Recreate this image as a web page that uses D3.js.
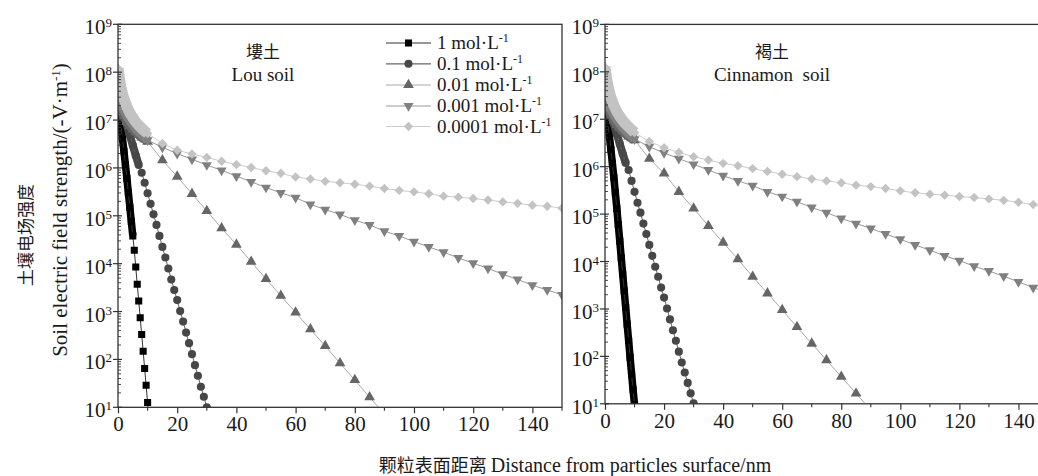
<!DOCTYPE html>
<html>
<head>
<meta charset="utf-8">
<script src="https://cdn.jsdelivr.net/npm/d3@7"></script>
<style>
  body { margin: 0; background: #fff; }
  text { font-family: "Liberation Serif", "Times New Roman", serif; fill: #1a1a1a; }
  .cn { font-family: "Noto Sans CJK SC", sans-serif; }
</style>
</head>
<body>
<svg id="chart" width="1038" height="476"></svg>
<script>

// Distance from particle surface (nm) for each series
const x1M = [0, 0.5, 1, 1.5, 2, 2.5, 3, 3.5, 4, 4.5, 5, 5.5, 6, 6.5, 7, 7.5, 8, 8.5, 9, 9.5, 10, 10.5];
const x01M = [0, 1, 2, 3, 4, 5, 6, 7, 8, 9, 10, 11, 12, 13, 14, 15, 16, 17, 18, 19, 20, 21, 22, 23, 24, 25, 26, 27, 28, 29, 30];
const x001M = [0, 1, 2, 3, 4, 5, 6, 7, 8, 9, 10, 15, 20, 25, 30, 35, 40, 45, 50, 55, 60, 65, 70, 75, 80, 85, 90];
const x0001M = [0, 1, 2, 3, 4, 5, 6, 7, 8, 9, 10, 15, 20, 25, 30, 35, 40, 45, 50, 55, 60, 65, 70, 75, 80, 85, 90,
    95, 100, 105, 110, 115, 120, 125, 130, 135, 140, 145, 150];
const x00001M = [0, 0.5, 1, 1.5, 2, 3, 4, 5, 6, 7, 8, 9, 10, 15, 20, 25, 30, 35, 40, 45, 50, 55, 60, 65, 70, 75, 80, 85, 90,
    95, 100, 105, 110, 115, 120, 125, 130, 135, 140, 145, 150];

// Field strength, given as log10(-V/m)
const lou1M = [7.45, 7.18, 6.9, 6.62, 6.35, 6.07, 5.78, 5.48, 5.18, 4.88, 4.58, 4.28, 3.93, 3.57, 3.22, 2.87, 2.52, 2.17, 1.81, 1.46, 1.10, 0.75];
const lou01M = [7.45, 7.3, 7.1, 6.9, 6.68, 6.47, 6.26, 6.06, 5.9, 5.69, 5.47, 5.25, 5.03, 4.81, 4.58, 4.35, 4.13, 3.90, 3.67, 3.45,
    3.24, 3.01, 2.79, 2.56, 2.34, 2.11, 1.88, 1.66, 1.43, 1.22, 1.0];
const lou001M = [7.45, 7.22, 7.07, 6.96, 6.88, 6.81, 6.75, 6.69, 6.64, 6.6, 6.55, 6.16, 5.82, 5.46, 5.10, 4.74, 4.40, 4.04, 3.68,
    3.33, 2.98, 2.63, 2.28, 1.92, 1.57, 1.21, 0.86];
const lou0001M = [7.6, 7.35, 7.2, 7.08, 6.98, 6.9, 6.82, 6.75, 6.69, 6.64, 6.58, 6.43, 6.30, 6.18, 6.06, 5.95, 5.83, 5.71, 5.59,
    5.48, 5.38, 5.24, 5.13, 5.03, 4.91, 4.81, 4.68, 4.58, 4.46, 4.35, 4.24, 4.12, 4.01, 3.90, 3.78, 3.67, 3.55, 3.45, 3.35];
const lou00001M = [8.08, 7.85, 7.68, 7.55, 7.45, 7.28, 7.15, 7.05, 6.96, 6.89, 6.83, 6.77, 6.72, 6.51, 6.37, 6.29, 6.22, 6.14,
    6.07, 6.01, 5.94, 5.89, 5.81, 5.77, 5.72, 5.69, 5.66, 5.62, 5.57, 5.53, 5.50, 5.46, 5.41, 5.39, 5.36, 5.33, 5.29, 5.26,
    5.22, 5.20, 5.16];

const cin1M = [7.47, 7.2, 6.92, 6.64, 6.36, 6.07, 5.77, 5.45, 5.12, 4.78, 4.43, 4.08, 3.73, 3.38, 3.03, 2.68, 2.33, 1.98, 1.63, 1.3, 0.98, 0.63];
const cin01M = [7.47, 7.3, 7.1, 6.9, 6.69, 6.48, 6.27, 6.08, 5.93, 5.70, 5.47, 5.24, 5.03, 4.80, 4.58, 4.35, 4.12, 3.89, 3.68, 3.45,
    3.24, 3.01, 2.78, 2.55, 2.33, 2.10, 1.87, 1.66, 1.44, 1.22, 1.01];
const cin001M = [7.47, 7.23, 7.08, 6.97, 6.88, 6.81, 6.75, 6.69, 6.64, 6.6, 6.56, 6.17, 5.86, 5.47, 5.12, 4.75, 4.40, 4.05, 3.68,
    3.33, 2.98, 2.62, 2.27, 1.92, 1.57, 1.22, 0.87];
const cin0001M = [7.6, 7.35, 7.2, 7.08, 6.98, 6.9, 6.82, 6.75, 6.69, 6.64, 6.58, 6.42, 6.29, 6.17, 6.05, 5.93, 5.81, 5.70, 5.60,
    5.47, 5.37, 5.26, 5.14, 5.03, 4.91, 4.80, 4.70, 4.58, 4.47, 4.35, 4.24, 4.12, 4.02, 3.90, 3.80, 3.69, 3.57, 3.45, 3.34];
const cin00001M = [8.1, 7.87, 7.7, 7.57, 7.46, 7.29, 7.16, 7.06, 6.97, 6.9, 6.84, 6.78, 6.72, 6.53, 6.40, 6.30, 6.21, 6.14,
    6.07, 6.02, 5.96, 5.90, 5.84, 5.79, 5.74, 5.70, 5.66, 5.61, 5.58, 5.54, 5.49, 5.45, 5.42, 5.40, 5.37, 5.35, 5.32, 5.29,
    5.25, 5.20, 5.17];

const concLabels = ["1", "0.1", "0.01", "0.001", "0.0001"];
const xSeries = [x1M, x01M, x001M, x0001M, x00001M];
const xTicks = [0, 20, 40, 60, 80, 100, 120, 140];
const yExponents = [1, 2, 3, 4, 5, 6, 7, 8, 9];


// Marker look for each concentration (drawn in this order, lightest on top)
const looks = [
    { sym: d3.symbolSquare, size: 50, rot: 0, fill: "#000", line: "#333", band: 7.5 },
    { sym: d3.symbolCircle, size: 52, rot: 0, fill: "#474747", line: "#666", band: 8 },
    { sym: d3.symbolTriangle, size: 50, rot: 0, fill: "#666", line: "#aaa", band: 9 },
    { sym: d3.symbolTriangle, size: 44, rot: 180, fill: "#808080", line: "#999", band: 9 },
    { sym: d3.symbolSquare, size: 44, rot: 45, fill: "#c3c3c3", line: "#ccc", band: 11 }
];

const panels = [
    { x0: 118, x1: 562, yTop: 24.3, yBot: 407.3, cn: "塿土", en: "Lou soil", tx: 263, legend: true,
      values: [lou1M, lou01M, lou001M, lou0001M, lou00001M], bandTo: [5, 7.5, 10, 10, 10] },
    { x0: 605, x1: 1048, yTop: 24.4, yBot: 403.8, cn: "褐土", en: "Cinnamon  soil", tx: 772, legend: false,
      values: [cin1M, cin01M, cin001M, cin0001M, cin00001M], bandTo: [10.5, 7.5, 10, 10, 10] }
];

const svg = d3.select("#chart");
const defs = svg.append("defs");

function addSup(text, base, sup, supSize) {
    text.append("tspan").text(base);
    text.append("tspan").attr("baseline-shift", "super").attr("font-size", supSize).text(sup);
}

panels.forEach((p, pi) => {
    const x = d3.scaleLinear().domain([0, 150]).range([p.x0, p.x1]);
    const y = d3.scaleLog().domain([1e1, 1e9]).range([p.yBot, p.yTop]);

    defs.append("clipPath").attr("id", "clip" + pi)
        .append("rect")
        .attr("x", p.x0).attr("y", p.yTop)
        .attr("width", p.x1 - p.x0).attr("height", p.yBot - p.yTop);

    const g = svg.append("g");
    const plot = g.append("g").attr("clip-path", `url(#clip${pi})`);

    // Series: thin connecting line, a thick band where markers crowd together, then markers
    p.values.forEach((vals, si) => {
        const look = looks[si];
        const pts = vals.map((v, i) => ({ d: xSeries[si][i], e: Math.pow(10, v) }));
        const line = d3.line().x(d => x(d.d)).y(d => y(d.e));
        const dense = pts.filter(d => d.d <= p.bandTo[si]);
        plot.append("path")
            .attr("d", line(dense))
            .attr("fill", "none")
            .attr("stroke", look.fill)
            .attr("stroke-width", look.band)
            .attr("stroke-linejoin", "round");
        plot.append("path")
            .attr("d", line(pts))
            .attr("fill", "none")
            .attr("stroke", look.line)
            .attr("stroke-width", 1);
        plot.selectAll(null)
            .data(pts)
            .join("path")
            .attr("d", d3.symbol().type(look.sym).size(look.size))
            .attr("transform", d => `translate(${x(d.d)},${y(d.e)}) rotate(${look.rot})`)
            .attr("fill", look.fill);
    });

    // Frame
    g.append("rect")
        .attr("x", p.x0).attr("y", p.yTop)
        .attr("width", p.x1 - p.x0).attr("height", p.yBot - p.yTop)
        .attr("fill", "none").attr("stroke", "#333").attr("stroke-width", 1.3);

    // X axis
    const xAxis = g.append("g")
        .attr("transform", `translate(0,${p.yBot})`)
        .call(d3.axisBottom(x).tickValues(xTicks).tickSize(6).tickPadding(3).tickFormat(d3.format("d")));
    xAxis.select(".domain").remove();
    xAxis.selectAll("line").attr("stroke", "#333").attr("stroke-width", 1.2);
    xAxis.selectAll("text").attr("font-size", 21).attr("font-family", "Liberation Serif").attr("fill", "#1a1a1a");
    g.selectAll(null)
        .data([10, 30, 50, 70, 90, 110, 130, 150])
        .join("line")
        .attr("x1", d => x(d)).attr("x2", d => x(d))
        .attr("y1", p.yBot).attr("y2", p.yBot + 3.5)
        .attr("stroke", "#333").attr("stroke-width", 1.1);

    // Y axis: decade ticks, minor ticks, 10^n labels
    yExponents.forEach(k => {
        const yy = y(Math.pow(10, k));
        g.append("line")
            .attr("x1", p.x0 - 5).attr("x2", p.x0 + 4)
            .attr("y1", yy).attr("y2", yy)
            .attr("stroke", "#333").attr("stroke-width", 1.2);
        if (k < 9) {
            d3.range(2, 10).forEach(m => {
                const ym = y(m * Math.pow(10, k));
                g.append("line")
                    .attr("x1", p.x0).attr("x2", p.x0 + 3)
                    .attr("y1", ym).attr("y2", ym)
                    .attr("stroke", "#333").attr("stroke-width", 0.9);
            });
        }
        const t = g.append("text")
            .attr("x", p.x0 - 6).attr("y", yy + 10)
            .attr("text-anchor", "end")
            .attr("font-size", 21);
        addSup(t, "10", k, 13);
    });

    // Panel title
    g.append("text").attr("class", "cn")
        .attr("x", p.tx).attr("y", 58)
        .attr("text-anchor", "middle").attr("font-size", 17)
        .text(p.cn);
    g.append("text")
        .attr("x", p.tx).attr("y", 81)
        .attr("text-anchor", "middle").attr("font-size", 19)
        .style("white-space", "pre")
        .text(p.en);

    // Legend
    if (p.legend) {
        const rows = [43, 63.8, 85, 106, 126.5];
        looks.forEach((look, i) => {
            const ly = rows[i];
            g.append("line")
                .attr("x1", 386).attr("x2", 431)
                .attr("y1", ly).attr("y2", ly)
                .attr("stroke", look.line).attr("stroke-width", 1.2);
            g.append("path")
                .attr("d", d3.symbol().type(look.sym).size(look.size))
                .attr("transform", `translate(408.5,${ly}) rotate(${look.rot})`)
                .attr("fill", look.fill);
            const t = g.append("text")
                .attr("x", 437).attr("y", ly + 6)
                .attr("font-size", 19);
            addSup(t, concLabels[i] + " mol·L", "-1", 12);
        });
    }
});

// Axis titles
svg.append("text")
    .attr("x", 575).attr("y", 472)
    .attr("text-anchor", "middle")
    .attr("font-size", 20)
    .call(t => {
        t.append("tspan").attr("class", "cn").attr("font-size", 18).text("颗粒表面距离 ");
        t.append("tspan").text("Distance from particles surface/nm");
    });

const yTitle = svg.append("text")
    .attr("transform", "translate(67,210) rotate(-90)")
    .attr("text-anchor", "middle")
    .attr("font-size", 21);
yTitle.append("tspan").text("Soil electric field strength/(-V·m");
yTitle.append("tspan").attr("baseline-shift", "super").attr("font-size", 13).text("-1");
yTitle.append("tspan").text(")");

svg.append("text")
    .attr("class", "cn")
    .attr("transform", "translate(32,235) rotate(-90)")
    .attr("text-anchor", "middle")
    .attr("font-size", 17)
    .attr("fill", "#444")
    .text("土壤电场强度");

</script>
</body>
</html>
